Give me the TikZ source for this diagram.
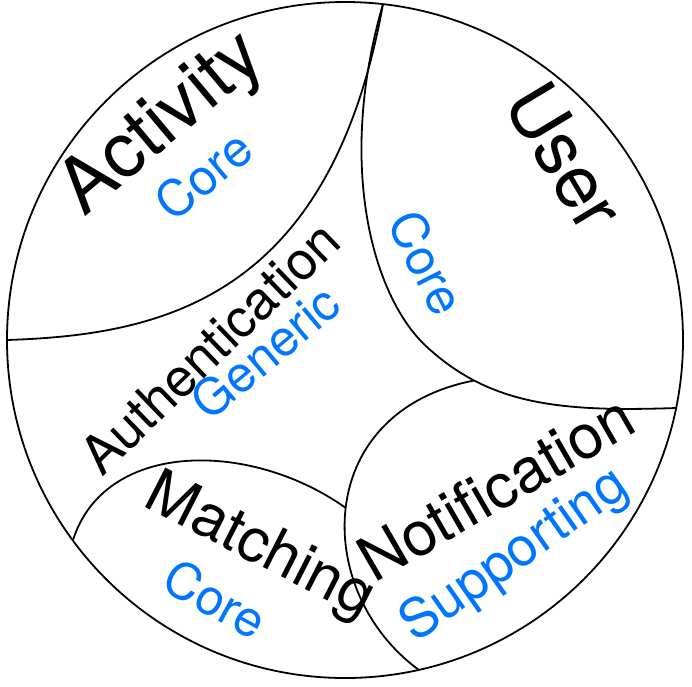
\documentclass[tikz,border=0pt]{standalone}
\usepackage{fontspec}
\setmainfont{TeX Gyre Heros}
\definecolor{typeblue}{RGB}{0,118,255}

\begin{document}
\begin{tikzpicture}[x=1pt, y=-1pt,
    edge/.style={draw=black, line width=1.8pt},
    ctxname/.style={anchor=base, inner sep=0pt, text=black, font=\fontsize{#1}{#1}\selectfont},
    ctxtype/.style={anchor=base, inner sep=0pt, text=typeblue, font=\fontsize{#1}{#1}\selectfont}]
    \useasboundingbox (0,0) rectangle (692,686);
    % outer boundary
    \draw [edge] (345,340) circle [radius=338];
    \coordinate (top) at (383,4);
    \coordinate (left) at (7,340);
    \coordinate (right) at (676,408);
    \coordinate (bottom) at (419,670);
    \coordinate (lowleft) at (73,540);
    % context borders
    \draw [edge] (top) .. controls (330,300) and (160,335) .. (left);
    \draw [edge] (top) .. controls (335,170) and (375,300) .. (427,347)
        .. controls (490,405) and (560,412) .. (right) coordinate[pos=.24] (userjoin);
    \draw [edge] (userjoin) .. controls (312,412) and (312,592) .. (bottom) coordinate[pos=.5] (notejoin);
    \draw [edge] (lowleft) .. controls (105,440) and (250,440) .. (notejoin);
    % labels
    \node [ctxname=76pt, rotate=40] (activity) at (176,140) {Activity};
    \node [ctxtype=50pt, rotate=40] (activitytype) at (215,189) {Core};
    \node [ctxname=74pt, rotate=-59] (user) at (543,170) {User};
    \node [ctxtype=50pt, rotate=-63] (usertype) at (411,271) {Core};
    \node [ctxname=53pt, rotate=44] (auth) at (223,361) {Authentication};
    \node [ctxtype=50pt, rotate=40] (authtype) at (277,366) {Generic};
    \node [ctxname=61pt, rotate=-27] (matching) at (252,562) {Matching};
    \node [ctxtype=50pt, rotate=-29] (matchingtype) at (207,615) {Core};
    \node [ctxname=62pt, rotate=30] (notification) at (507,507) {Notification};
    \node [ctxtype=54pt, rotate=35] (notificationtype) at (523,568) {Supporting};
\end{tikzpicture}
\end{document}
